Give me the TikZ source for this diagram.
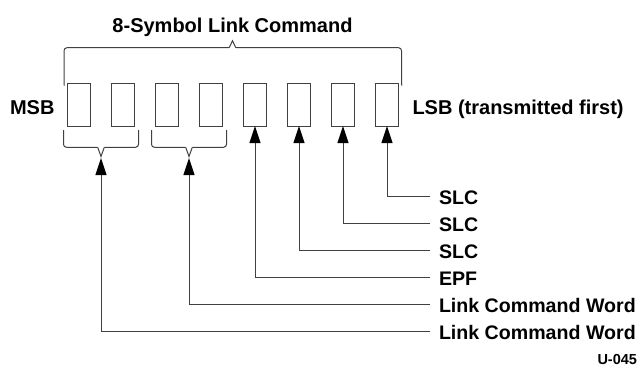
\documentclass[tikz,border=0pt]{standalone}
\usepackage{fontspec}
\setmainfont{Liberation Sans}
\usetikzlibrary{arrows.meta}
\begin{document}
\begin{tikzpicture}[x=1pt,y=-1pt,
  every node/.style={inner sep=0pt,outer sep=0pt},
  symbox/.style={draw=black!75,line width=1pt,minimum width=22.5pt,minimum height=43pt},
  lbl/.style={anchor=base west,font=\bfseries\fontsize{19.6}{22}\selectfont},
  side/.style={anchor=base,font=\bfseries\fontsize{20}{24}\selectfont},
  wire/.style={draw=black!75,line width=1pt},
  arr/.style={wire,-{Triangle[length=17pt,width=11pt,fill=black,color=black]}},
  brace/.style={wire,line join=miter}]
\useasboundingbox (0,0) rectangle (640,368);
% symbol boxes
\foreach \i in {1,...,8}{
  \node[symbox] (b\i) at ({79+44*(\i-1)},104.5) {};
}
% titles
\node[side] (title) at (232.5,32) {8-Symbol Link Command};
\node[side,anchor=base east] (msb) at (54.5,114) {MSB};
\node[side,anchor=base west] (lsb) at (412.5,114) {LSB (transmitted first)};
% top brace
\coordinate (tl) at ([xshift=-3.5pt]b1.north west);
\coordinate (tr) at ([xshift=3.5pt]b8.north east);
\draw[brace,rounded corners=3pt] ([yshift=-2.5pt]tl) -- (64,47.7) -- (229.2,47.7);
\draw[brace] (229.2,47.7) -- (232.5,40.7) -- (235.8,47.7);
\draw[brace,rounded corners=3pt] (235.8,47.7) -- (401.5,47.7) -- ([yshift=-2.5pt]tr);
% lower braces
\draw[brace,rounded corners=3pt] (63.5,130) -- (63.5,147.3) -- (97.7,147.3);
\draw[brace] (97.7,147.3) -- (101,156.5) -- (104.3,147.3);
\draw[brace,rounded corners=3pt] (104.3,147.3) -- (138.5,147.3) -- (138.5,130);
\draw[brace,rounded corners=3pt] (151.5,130) -- (151.5,147.3) -- (185.7,147.3);
\draw[brace] (185.7,147.3) -- (189,156.5) -- (192.3,147.3);
\draw[brace,rounded corners=3pt] (192.3,147.3) -- (226.5,147.3) -- (226.5,130);
\coordinate (bA) at (101,158);
\coordinate (bB) at (189,158);
% labels
\node[lbl] (l1) at (439,204) {SLC};
\node[lbl] (l2) at (439,231) {SLC};
\node[lbl] (l3) at (439,258) {SLC};
\node[lbl] (l4) at (439,285) {EPF};
\node[lbl] (l5) at (439,312) {Link Command Word};
\node[lbl] (l6) at (439,339) {Link Command Word};
\foreach \k in {1,...,6}{
  \coordinate (c\k) at ([xshift=-9pt]l\k.base west |- 0,{196.5+27*(\k-1)});
}
\draw[arr] (c1) -| (b8.south);
\draw[arr] (c2) -| (b7.south);
\draw[arr] (c3) -| (b6.south);
\draw[arr] (c4) -| (b5.south);
\draw[arr] (c5) -| (bB);
\draw[arr] (c6) -| (bA);
\node[anchor=base east,font=\bfseries\fontsize{14.5}{17}\selectfont] (ref) at (637,364) {U-045};
\end{tikzpicture}
\end{document}
